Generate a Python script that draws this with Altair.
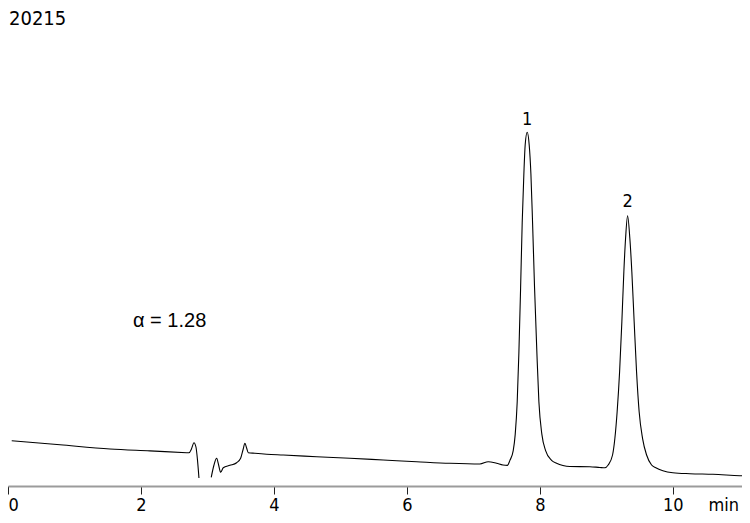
import altair as alt
import pandas as pd

# ---- chromatogram trace (time in min, detector signal in arbitrary units) ----
# part before the off-scale dip
time_a = [0.056, 0.782, 1.534, 2.135, 2.687, 2.722, 2.759, 2.797, 2.827, 2.850, 2.872]
signal_a = [51.3, 47.2, 43.0, 41.1, 39.3, 39.2, 43.0, 49.3, 45.0, 32.0, 14.0]

# part after the off-scale dip
time_b = [3.057, 3.098, 3.138, 3.168, 3.198, 3.238, 3.338, 3.439, 3.499, 3.534,
          3.564, 3.589, 3.614, 3.714, 3.890, 4.140, 4.642, 5.143, 5.644, 6.146,
          6.647, 7.098, 7.223, 7.349, 7.444, 7.511, 7.549, 7.599, 7.629, 7.659,
          7.684, 7.710, 7.734, 7.759, 7.779, 7.809, 7.839, 7.865, 7.890, 7.920,
          7.955, 7.985, 8.030, 8.086, 8.176, 8.251, 8.346, 8.451, 8.752, 8.902,
          8.977, 9.027, 9.093, 9.128, 9.162, 9.199, 9.233, 9.263, 9.289, 9.319,
          9.353, 9.383, 9.418, 9.454, 9.493, 9.544, 9.605, 9.680, 9.744, 9.850,
          10.000, 10.256, 10.602, 11.008, 11.158]
signal_b = [14.7, 27.0, 33.7, 27.0, 19.7, 24.3, 26.7, 29.3, 33.7, 42.0,
            48.7, 44.0, 39.3, 38.7, 37.8, 37.0, 35.3, 33.7, 32.0, 30.3,
            28.7, 28.0, 30.3, 28.7, 27.0, 26.6, 31.6, 41.4, 57.6, 90.2,
            139.0, 204.1, 269.2, 318.0, 347.3, 359.7, 347.3, 318.0, 269.2, 204.1,
            139.0, 90.2, 57.6, 41.4, 31.6, 28.7, 26.5, 25.5, 25.3, 24.5,
            24.2, 27.0, 37.0, 53.7, 80.3, 120.3, 170.3, 220.3, 253.7, 276.3,
            253.7, 220.3, 170.3, 120.3, 80.3, 53.7, 37.0, 27.0, 24.2, 21.3,
            19.3, 18.3, 17.7, 16.3, 16.0]

# peak labels
peak_names = ["1", "2"]
peak_times = [7.809, 9.319]
peak_label_signal = [367.0, 284.7]

# annotation
alpha_text = ["α = 1.28"]
alpha_time = [1.88]
alpha_signal = [165.3]

sample_id = "20215"
tick_values = [0, 2, 4, 6, 8, 10]

trace = pd.DataFrame({
    "time": time_a + time_b,
    "signal": signal_a + signal_b,
    "part": ["a"] * len(time_a) + ["b"] * len(time_b),
})
peaks = pd.DataFrame({"name": peak_names, "time": peak_times, "signal": peak_label_signal})
alpha_df = pd.DataFrame({"text": alpha_text, "time": alpha_time, "signal": alpha_signal})

TAHOMA_LIKE = "'DejaVu Sans Condensed', 'DejaVu Sans', sans-serif"

x_scale = alt.Scale(domain=[0, 11.04], nice=False, zero=False)
y_scale = alt.Scale(domain=[6, 484], nice=False, zero=False)

x_axis = alt.Axis(
    values=tick_values, format="d", grid=False,
    domainColor="#9b9b9b", domainWidth=2,
    tickColor="#222222", tickSize=8, tickWidth=1,
    labelFont=TAHOMA_LIKE, labelFontSize=18, labelColor="black",
    labelPadding=2, labelFlush=True, labelOverlap=False,
    title="min", titleFont=TAHOMA_LIKE, titleFontSize=18,
    titleFontWeight="normal", titleColor="black",
    titleX=700, titleY=10, titleAlign="left", titleBaseline="top",
    titleAnchor="start",
)

line = alt.Chart(trace).mark_line(
    color="black", strokeWidth=1.1, interpolate="monotone", clip=True
).encode(
    x=alt.X("time:Q", scale=x_scale, axis=x_axis),
    y=alt.Y("signal:Q", scale=y_scale, axis=None),
    detail="part:N",
)

peak_text = alt.Chart(peaks).mark_text(
    font=TAHOMA_LIKE, fontSize=18, color="black", align="center", baseline="alphabetic"
).encode(
    x=alt.X("time:Q", scale=x_scale),
    y=alt.Y("signal:Q", scale=y_scale),
    text="name:N",
)

alpha_mark = alt.Chart(alpha_df).mark_text(
    font="'Liberation Sans', Arial, sans-serif", fontSize=20, color="black",
    align="left", baseline="alphabetic"
).encode(
    x=alt.X("time:Q", scale=x_scale),
    y=alt.Y("signal:Q", scale=y_scale),
    text="text:N",
)

id_mark = alt.Chart(pd.DataFrame({"text": [sample_id]})).mark_text(
    font=TAHOMA_LIKE, fontSize=20, color="black", align="left", baseline="top"
).encode(
    x=alt.value(1), y=alt.value(1), text="text:N",
)

chart = alt.layer(line, peak_text, alpha_mark, id_mark).properties(
    width=734, height=478,
    autosize=alt.AutoSizeParams(type="none"),
    padding={"left": 0, "top": 0, "right": 0, "bottom": 29},
    background="white",
).configure_view(stroke=None)

chart.save("out.html", embed_options={"renderer": "svg", "actions": False})
